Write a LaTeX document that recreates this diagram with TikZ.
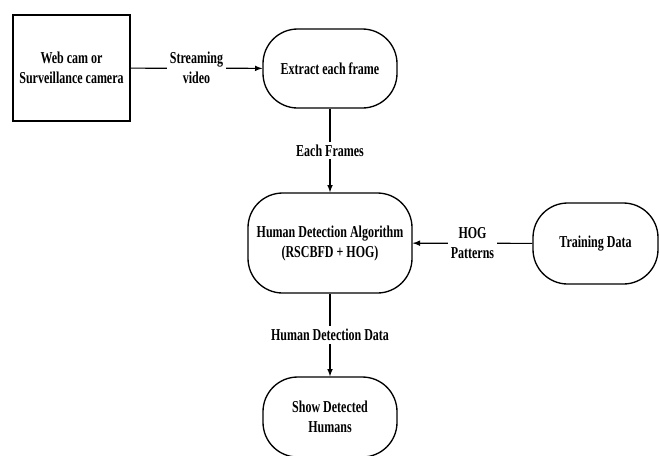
\documentclass[tikz,border=0pt]{standalone}
\usepackage{fontspec}
\setmainfont[FakeStretch=0.72]{Liberation Serif}
\usepackage{tikz}
\usetikzlibrary{shapes.geometric, arrows, positioning}

\tikzset{
    blockbox/.style={draw=black, line width=1pt, align=center, font=\bfseries\fontsize{12.5}{15}\selectfont},
    roundbox/.style={blockbox, rounded corners=26pt},
    flowline/.style={-latex, line width=0.9pt},
    flowlabel/.style={fill=white, align=center, inner sep=2pt, font=\bfseries\fontsize{12.5}{15}\selectfont}
}

\begin{document}
\begin{tikzpicture}[x=0.75pt, y=-0.75pt]
                \useasboundingbox (0,0) rectangle (660,455);

                % Camera source
                \node[blockbox, minimum width=87.75pt, minimum height=79.5pt] (cam) at (71.5,68) {Web cam or\\Surveillance camera};

                % Frame extraction
                \node[roundbox, minimum width=100.5pt, minimum height=59.25pt] (extract) at (330,68.5) {Extract each frame};

                % Detection algorithm
                \node[roundbox, minimum width=123pt, minimum height=75pt] (detect) at (330,243) {Human Detection Algorithm\\(RSCBFD + HOG)};

                % Training data
                \node[roundbox, minimum width=93.75pt, minimum height=60.75pt] (train) at (595.5,243.5) {Training Data};

                % Output
                \node[roundbox, minimum width=100.5pt, minimum height=60pt] (show) at (330,417) {Show Detected\\Humans};

                % Connectors
                \draw[flowline] (cam) -- (extract) node[midway, flowlabel] {Streaming\\video};
                \draw[flowline] (extract) -- (detect) node[midway, flowlabel] {Each Frames};
                \draw[flowline] (train) -- (detect) node[midway, flowlabel] {HOG\\Patterns};
                \draw[flowline] (detect) -- (show) node[midway, flowlabel] {Human Detection Data};
            \end{tikzpicture}
\end{document}
